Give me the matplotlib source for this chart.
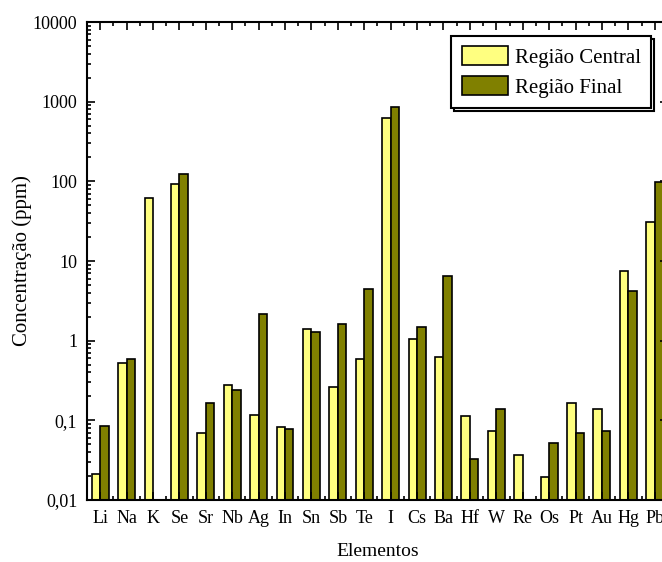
import numpy as np
import matplotlib
matplotlib.use("Agg")
import matplotlib.pyplot as plt
from matplotlib.ticker import LogLocator, NullFormatter, MultipleLocator

plt.rcParams['font.family'] = ['Liberation Serif', 'DejaVu Serif']

elementos = ['Li', 'Na', 'K', 'Se', 'Sr', 'Nb', 'Ag', 'In', 'Sn', 'Sb', 'Te', 'I',
             'Cs', 'Ba', 'Hf', 'W', 'Re', 'Os', 'Pt', 'Au', 'Hg', 'Pb']
central = [0.021, 0.53, 61, 93, 0.069, 0.28, 0.117, 0.082, 1.41, 0.26, 0.59, 618,
           1.05, 0.62, 0.115, 0.074, 0.037, 0.0194, 0.164, 0.138, 7.6, 30.7]
final = [0.084, 0.59, np.nan, 124, 0.164, 0.237, 2.15, 0.078, 1.28, 1.61, 4.5, 866,
         1.48, 6.4, 0.0326, 0.138, np.nan, 0.052, 0.069, 0.074, 4.25, 99]
yticks = [0.01, 0.1, 1, 10, 100, 1000, 10000]
ylabels = ['0,01', '0,1', '1', '10', '100', '1000', '10000']

fig = plt.figure(figsize=(6.62, 5.62), dpi=100)
ax = fig.add_axes([0.1314, 0.1103, 0.8776, 0.8505])

x = np.arange(len(elementos))
w = 0.32
ax.bar(x - w/2, central, w, color='#ffff80', edgecolor='black', linewidth=1.2,
       label='Região Central')
ax.bar(x + w/2, final, w, color='#808000', edgecolor='black', linewidth=1.2,
       label='Região Final')

ax.set_yscale('log')
ax.set_ylim(0.01, 10000)
ax.set_xlim(-0.5, len(elementos) - 0.5)
ax.set_yticks(yticks)
ax.set_yticklabels(ylabels)
ax.yaxis.set_minor_locator(LogLocator(base=10, subs=np.arange(2, 10), numticks=20))
ax.yaxis.set_minor_formatter(NullFormatter())
ax.set_xticks(x)
ax.set_xticklabels(elementos)
ax.xaxis.set_minor_locator(MultipleLocator(0.5))

ax.tick_params(which='both', direction='in', top=True, right=True, labelsize=13, width=1.2)
ax.tick_params(which='major', length=6)
ax.tick_params(which='minor', length=3)
ax.tick_params(axis='x', pad=7)
ax.tick_params(axis='y', pad=7)
for s in ax.spines.values():
    s.set_linewidth(1.5)

ax.set_xlabel('Elementos', fontsize=14)
ax.xaxis.set_label_coords(0.5, -0.09)
ax.set_ylabel('Concentração (ppm)', fontsize=15)
ax.yaxis.set_label_coords(-0.094, 0.5)

leg = ax.legend(loc='upper right', bbox_to_anchor=(0.971, 0.971), borderaxespad=0,
                fontsize=15, fancybox=False, edgecolor='black', framealpha=1,
                handlelength=2.25, handleheight=1.0, handletextpad=0.3,
                labelspacing=0.4, borderpad=0.5,
                shadow={'facecolor': 'white', 'edgecolor': 'black', 'alpha': 1, 'linewidth': 1.5})
leg.get_frame().set_linewidth(1.5)

fig.savefig('out.png', dpi=100)
